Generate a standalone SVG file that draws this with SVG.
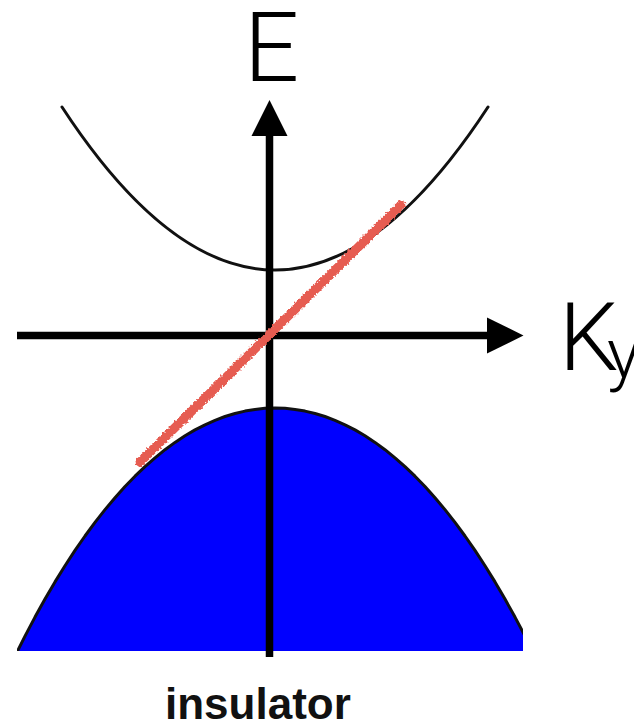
<svg xmlns="http://www.w3.org/2000/svg" width="634" height="727" viewBox="0 0 634 727">
  <style>
    .band { fill: none; stroke: #111; stroke-width: 3; stroke-linejoin: round; }
    .axis { stroke: #000; stroke-width: 7.5; fill: none; }
    .head { fill: #000; }
    .big { font-family: Roboto, "Open Sans", "Liberation Sans", sans-serif; font-weight: 300; fill: #000; }
    .cap { font-family: "Liberation Sans", Arial, sans-serif; font-weight: bold; font-size: 44px; fill: #111; }
  </style>
  <defs>
    <clipPath id="frame"><rect x="17" y="0" width="506" height="651"/></clipPath>
    <filter id="rough" x="-10%" y="-10%" width="120%" height="120%">
      <feTurbulence type="fractalNoise" baseFrequency="0.5" numOctaves="2" seed="3" result="n"/>
      <feDisplacementMap in="SourceGraphic" in2="n" scale="5" xChannelSelector="R" yChannelSelector="G"/>
    </filter>
  </defs>
  <rect width="634" height="727" fill="#fff"/>
  <g id="valence-band" clip-path="url(#frame)">
    <path fill="#0000ff" d="M5,677.1 L15,656.1 25,636.1 35,617.1 45,599.1 55,581.9 65,565.7 75,550.4 85,536.0 95,522.4 105,509.6 115,497.7 125,486.5 135,476.2 145,466.6 155,457.8 165,449.7 175,442.4 185,435.8 195,429.9 205,424.8 215,420.3 225,416.5 235,413.5 245,411.1 255,409.4 265,408.3 275,408 285,408.3 295,409.4 305,411.1 315,413.5 325,416.5 335,420.3 345,424.8 355,429.9 365,435.8 375,442.4 385,449.7 395,457.8 405,466.6 415,476.2 425,486.5 435,497.7 445,509.6 455,522.4 465,536.0 475,550.4 485,565.7 495,581.9 505,599.1 515,617.1 525,636.1 535,656.1 L535,700 L5,700 Z"/>
    <polyline class="band" points="5,677.1 15,656.1 25,636.1 35,617.1 45,599.1 55,581.9 65,565.7 75,550.4 85,536.0 95,522.4 105,509.6 115,497.7 125,486.5 135,476.2 145,466.6 155,457.8 165,449.7 175,442.4 185,435.8 195,429.9 205,424.8 215,420.3 225,416.5 235,413.5 245,411.1 255,409.4 265,408.3 275,408 285,408.3 295,409.4 305,411.1 315,413.5 325,416.5 335,420.3 345,424.8 355,429.9 365,435.8 375,442.4 385,449.7 395,457.8 405,466.6 415,476.2 425,486.5 435,497.7 445,509.6 455,522.4 465,536.0 475,550.4 485,565.7 495,581.9 505,599.1 515,617.1 525,636.1 535,656.1"/>
  </g>
  <g id="conduction-band">
    <path class="band" stroke-linecap="round" d="M62,107 Q275,433 488,107"/>
  </g>
  <g id="axes">
    <line class="axis" x1="269.5" y1="657" x2="269.5" y2="132"/>
    <polygon class="head" points="269.5,100 251.5,136 287.5,136"/>
    <line class="axis" x1="17" y1="335.5" x2="490" y2="335.5"/>
    <polygon class="head" points="523.5,335.5 487,317.5 487,353.5"/>
  </g>
  <g id="surface-state">
    <line x1="140" y1="462" x2="401" y2="205" stroke="#e65b51" stroke-width="9" stroke-linecap="round" filter="url(#rough)"/>
  </g>
  <g id="labels">
    <text class="big" x="244" y="81" font-size="97">E</text>
    <text class="big" x="559" y="370" font-size="94">K</text>
    <text class="big" x="607" y="378" font-size="70">y</text>
    <text class="cap" x="165" y="719">insulator</text>
  </g>
</svg>
